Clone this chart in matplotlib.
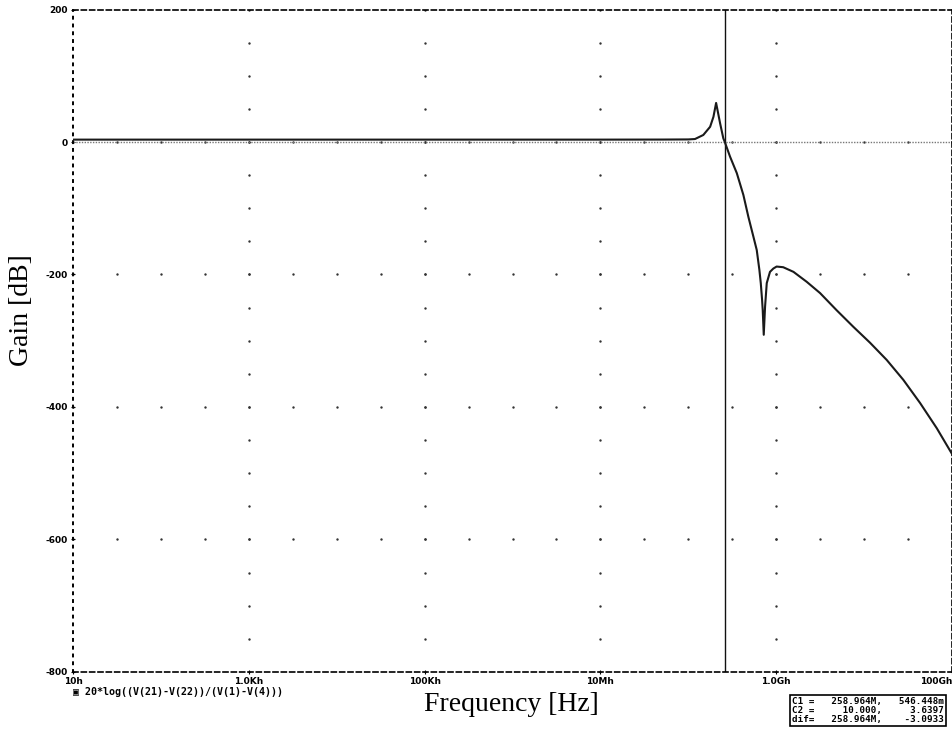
import numpy as np
import matplotlib
matplotlib.use('Agg')
import matplotlib.pyplot as plt

# trace: 20*log((V(21)-V(22))/(V(1)-V(4)))
freq_hz = [10, 1e3, 1e5, 1e7, 5e7, 1.0e8, 1.19e8, 1.48e8, 1.77e8, 1.93e8, 2.07e8,
           2.30e8, 2.50e8, 2.59e8, 2.98e8, 3.56e8, 4.23e8, 4.82e8, 5.5e8, 6.0e8,
           6.43e8, 6.67e8, 6.9e8, 7.02e8, 7.21e8, 7.46e8, 7.8e8, 8.49e8, 9.27e8,
           1.01e9, 1.2e9, 1.57e9, 2.22e9, 3.15e9, 4.87e9, 7.54e9, 1.167e10,
           1.807e10, 2.79e10, 4.33e10, 6.70e10, 1.0e11]
gain_db = [3.6, 3.6, 3.6, 3.6, 3.7, 3.9, 4.5, 10.6, 23.0, 38.0, 59.0,
           28.0, 5.6, 0.55, -22.0, -47.0, -80.0, -113.0, -143.0, -163.0,
           -193.0, -213.0, -238.0, -254.0, -291.0, -249.0, -213.0, -196.0, -191.0,
           -188.0, -189.0, -196.0, -211.0, -228.0, -254.0, -279.0, -303.0,
           -329.0, -359.0, -394.0, -432.0, -471.0]

x_ticks = [1e1, 1e3, 1e5, 1e7, 1e9, 1e11]
x_tick_labels = ['10h', '1.0Kh', '100Kh', '10Mh', '1.0Gh', '100Gh']
y_ticks = [200, 0, -200, -400, -600, -800]
y_tick_labels = ['200', '0', '-200', '-400', '-600', '-800']

cursor_f = 258.964e6
cursor_db = 0.546448
cursor_lines = ['C1 =   258.964M,   546.448m',
                'C2 =     10.000,     3.6397',
                'dif=   258.964M,    -3.0933']
trace_name = '20*log((V(21)-V(22))/(V(1)-V(4)))'

fig = plt.figure(figsize=(9.53, 7.32), dpi=100)
ax = fig.add_axes([0.0766, 0.082, 0.9224, 0.905])
ax.set_xscale('log')
ax.set_xlim(1e1, 1e11)
ax.set_ylim(-800, 200)

# frame: dashed top/bottom/right, finely dotted left
for side in ['top', 'bottom', 'right']:
    ax.spines[side].set_linestyle((0, (3, 2)))
    ax.spines[side].set_linewidth(1.2)
ax.spines['left'].set_linestyle((0, (1, 3)))
ax.spines['left'].set_linewidth(1.4)

# dotted grid: dots at minor steps along the major lines
half_dec = [10 ** (e / 2) for e in range(2, 23)]
y_minor = list(range(-800, 201, 50))
for f in x_ticks[1:-1]:
    ax.scatter([f] * len(y_minor), y_minor, s=3, color='#333333', lw=0, zorder=1)
for yv in y_ticks[1:-1]:
    ax.scatter(half_dec, [yv] * len(half_dec), s=3, color='#333333', lw=0, zorder=1)

# cursor lines
ax.axvline(cursor_f, color='#111111', lw=1.0, zorder=2)
ax.axhline(cursor_db, color='#777777', lw=1.0, linestyle=(0, (1, 1)), zorder=2)

ax.plot(freq_hz, gain_db, color='#1a1a1a', lw=1.5, zorder=3)

ax.set_xticks(x_ticks)
ax.set_xticklabels(x_tick_labels)
ax.set_xticks([], minor=True)
ax.set_yticks(y_ticks)
ax.set_yticklabels(y_tick_labels)
ax.tick_params(axis='both', length=3, direction='inout', labelsize=6.5, pad=2)
for lab in ax.get_xticklabels() + ax.get_yticklabels():
    lab.set_fontweight('bold')
    lab.set_family('DejaVu Sans')
ax.get_xticklabels()[-1].set_horizontalalignment('right')

fig.text(0.023, 0.576, 'Gain [dB]', rotation=90, ha='center', va='center',
         family='Liberation Serif', fontsize=20)
fig.text(0.537, 0.037, 'Frequency [Hz]', ha='center', va='center',
         family='Liberation Serif', fontsize=20)

# trace legend
fig.text(0.077, 0.054, '\u25a3 ' + trace_name, ha='left', va='center',
         family='DejaVu Sans Mono', fontsize=7.2, fontweight='bold')

# cursor readout box
fig.text(0.831, 0.029, '\n'.join(cursor_lines), ha='left', va='center',
         family='DejaVu Sans Mono', fontsize=6.7, fontweight='bold', linespacing=1.0,
         bbox=dict(boxstyle='square,pad=0.2', facecolor='white', edgecolor='black', lw=1.2))

fig.savefig('out.png', dpi=100, facecolor='white')
